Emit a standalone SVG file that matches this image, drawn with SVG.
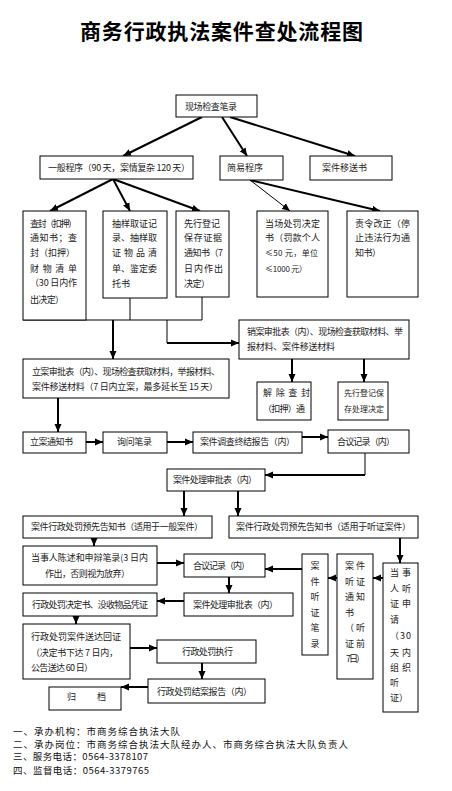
<svg xmlns="http://www.w3.org/2000/svg" width="452" height="791" viewBox="0 0 452 791">
<style>
.b{fill:#fff;stroke:#000;stroke-width:1}
.t{font-family:"Noto Sans CJK SC","Noto Sans",sans-serif;font-size:9px;fill:#222}
.s{font-size:8px}
.c{fill:none;stroke:#000;stroke-width:2}
.n{fill:none;stroke:#000;stroke-width:1}
.f{font-family:"Noto Sans CJK SC","Noto Sans",sans-serif;font-size:9.5px;fill:#111}
</style>
<defs>
<marker id="ah" markerUnits="userSpaceOnUse" markerWidth="8" markerHeight="8" refX="8" refY="4" orient="auto">
<path d="M0,0.5 L8,4 L0,7.5 z" fill="#000"/>
</marker>
</defs>
<rect width="452" height="791" fill="#fff"/>
<text x="80" y="39" textLength="283" style="font-family:'Noto Sans CJK SC',sans-serif;font-size:21px;font-weight:bold;fill:#000">商务行政执法案件查处流程图</text>

<g id="connectors">
<line class="c" x1="202" y1="117" x2="123" y2="156" marker-end="url(#ah)"/>
<line class="c" x1="222" y1="117" x2="247" y2="156" marker-end="url(#ah)"/>
<line class="c" x1="230" y1="117" x2="355" y2="156" marker-end="url(#ah)"/>
<line class="c" x1="113" y1="179" x2="50" y2="211" marker-end="url(#ah)"/>
<line class="c" x1="113" y1="179" x2="130" y2="211" marker-end="url(#ah)"/>
<line class="c" x1="113" y1="179" x2="200" y2="211" marker-end="url(#ah)"/>
<line class="n" x1="250" y1="180" x2="290" y2="211" marker-end="url(#ah)"/>
<line class="c" x1="250" y1="180" x2="380" y2="211" marker-end="url(#ah)"/>
<polyline class="n" points="23,320 202,320"/>
<line class="n" x1="49" y1="310" x2="49" y2="320"/>
<line class="n" x1="130" y1="298" x2="130" y2="320"/>
<line class="n" x1="202" y1="297" x2="202" y2="320"/>
<line class="c" x1="113" y1="320" x2="113" y2="359" marker-end="url(#ah)"/>
<polyline class="n" points="167,320 167,343"/>
<line class="c" x1="167" y1="343" x2="239" y2="343" marker-end="url(#ah)"/>
<line class="c" x1="292" y1="359" x2="292" y2="382" marker-end="url(#ah)"/>
<line class="c" x1="364" y1="359" x2="364" y2="382" marker-end="url(#ah)"/>
<line class="c" x1="58" y1="398" x2="58" y2="432" marker-end="url(#ah)"/>
<line class="c" x1="86" y1="442" x2="103" y2="442" marker-end="url(#ah)"/>
<line class="c" x1="167" y1="442" x2="193" y2="442" marker-end="url(#ah)"/>
<line class="c" x1="302" y1="437" x2="328" y2="437" marker-end="url(#ah)"/>
<polyline class="n" points="365,453 365,475"/>
<line class="c" x1="365" y1="475" x2="265" y2="475" marker-end="url(#ah)"/>
<line class="c" x1="184" y1="491" x2="184" y2="516" marker-end="url(#ah)"/>
<line class="c" x1="238" y1="491" x2="238" y2="516" marker-end="url(#ah)"/>
<line class="c" x1="94" y1="538" x2="94" y2="546" marker-end="url(#ah)"/>
<line class="c" x1="400" y1="538" x2="400" y2="563" marker-end="url(#ah)"/>
<line class="c" x1="157" y1="563" x2="184" y2="563" marker-end="url(#ah)"/>
<line class="c" x1="229" y1="577" x2="229" y2="593" marker-end="url(#ah)"/>
<line class="c" x1="184" y1="601" x2="157" y2="601" marker-end="url(#ah)"/>
<line class="c" x1="76" y1="616" x2="76" y2="624" marker-end="url(#ah)"/>
<line class="c" x1="130" y1="648" x2="157" y2="648" marker-end="url(#ah)"/>
<line class="c" x1="202" y1="663" x2="202" y2="679" marker-end="url(#ah)"/>
<line class="c" x1="148" y1="687" x2="121" y2="687" marker-end="url(#ah)"/>
<line class="c" x1="383" y1="578" x2="373" y2="578" marker-end="url(#ah)"/>
<line class="c" x1="337" y1="578" x2="328" y2="578" marker-end="url(#ah)"/>
<line class="c" x1="302" y1="569" x2="265" y2="569" marker-end="url(#ah)"/>
</g>

<g id="n1"><rect class="b" x="176" y="95" width="81" height="22"/><text class="t" x="185" y="109.5" textLength="52">现场检查笔录</text></g>
<g id="n2"><rect class="b" x="40" y="156" width="153" height="23"/><text class="t" x="48" y="171" textLength="142">一般程序（90 天，案情复杂 120 天）</text></g>
<g id="n3"><rect class="b" x="220" y="156" width="63" height="24"/><text class="t" x="227" y="171" textLength="36">简易程序</text></g>
<g id="n4"><rect class="b" x="310" y="156" width="82" height="24"/><text class="t" x="322" y="171" textLength="45">案件移送书</text></g>

<g id="n5"><rect class="b" x="23" y="211" width="63" height="109"/>
<text class="t" x="30" y="227" textLength="47">查封（扣押）</text>
<text class="t" x="30" y="241" textLength="47">通知书；查</text>
<text class="t" x="30" y="256" textLength="45">封（扣押）</text>
<text class="t" x="30" y="272" textLength="47">财 物 清 单</text>
<text class="t" x="30" y="286" textLength="47">（30 日内作</text>
<text class="t" x="30" y="303" textLength="34">出决定）</text></g>
<g id="n6"><rect class="b" x="103" y="211" width="64" height="87"/>
<text class="t" x="112" y="227" textLength="45">抽样取证记</text>
<text class="t" x="112" y="241" textLength="45">录、抽样取</text>
<text class="t" x="112" y="256" textLength="45">证 物 品 清</text>
<text class="t" x="112" y="272" textLength="45">单、鉴定委</text>
<text class="t" x="112" y="287" textLength="18">托书</text></g>
<g id="n7"><rect class="b" x="176" y="211" width="53" height="86"/>
<text class="t" x="184" y="227" textLength="36">先行登记</text>
<text class="t" x="184" y="241" textLength="38">保存证据</text>
<text class="t" x="184" y="256" textLength="39">通知书（7</text>
<text class="t" x="184" y="272" textLength="39">日内作出</text>
<text class="t" x="184" y="287" textLength="26">决定）</text></g>
<g id="n8"><rect class="b" x="257" y="211" width="71" height="86"/>
<text class="t" x="265" y="227" textLength="55">当场处罚决定</text>
<text class="t" x="265" y="241" textLength="55">书（罚款个人</text>
<text class="t s" x="265" y="256" textLength="53">≤50 元，单位</text>
<text class="t s" x="265" y="272" textLength="42">≤1000 元）</text></g>
<g id="n9"><rect class="b" x="347" y="211" width="71" height="86"/>
<text class="t" x="355" y="227" textLength="55">责令改正（停</text>
<text class="t" x="355" y="241" textLength="55">止违法行为通</text>
<text class="t" x="355" y="256" textLength="26">知书）</text></g>

<g id="n10"><rect class="b" x="239" y="320" width="170" height="39"/>
<text class="t" x="247" y="335" textLength="156">销案审批表（内）、现场检查获取材料、举</text>
<text class="t" x="247" y="350" textLength="88">报材料、案件移送材料</text></g>
<g id="n11"><rect class="b" x="23" y="359" width="206" height="39"/>
<text class="t" x="32" y="375" textLength="188">立案审批表（内）、现场检查获取材料，举报材料、</text>
<text class="t" x="32" y="390" textLength="186">案件移送材料（7 日内立案，最多延长至 15 天）</text></g>
<g id="n12"><rect class="b" x="257" y="382" width="54" height="38"/>
<text class="t" x="263" y="396" textLength="47">解 除 查 封</text>
<text class="t" x="263" y="412" textLength="42">（扣押）通</text></g>
<g id="n13"><rect class="b" x="338" y="382" width="50" height="38"/>
<text class="t s" x="344" y="396" textLength="40">先行登记保</text>
<text class="t s" x="344" y="412" textLength="40">存处理决定</text></g>

<g id="n14"><rect class="b" x="23" y="432" width="63" height="21"/><text class="t" x="30" y="444.5" textLength="43">立案通知书</text></g>
<g id="n15"><rect class="b" x="103" y="432" width="64" height="21"/><text class="t" x="117" y="444.5" textLength="35">询问笔录</text></g>
<g id="n16"><rect class="b" x="193" y="432" width="109" height="21"/><text class="t" x="200" y="444.5" textLength="95">案件调查终结报告（内）</text></g>
<g id="n17"><rect class="b" x="328" y="430" width="81" height="23"/><text class="t" x="337" y="444.5" textLength="58">合议记录（内）</text></g>
<g id="n18"><rect class="b" x="167" y="469" width="98" height="22"/><text class="t" x="173" y="483" textLength="84">案件处理审批表（内）</text></g>
<g id="n19"><rect class="b" x="23" y="516" width="189" height="22"/><text class="t" x="31" y="530" textLength="172">案件行政处罚预先告知书（适用于一般案件）</text></g>
<g id="n20"><rect class="b" x="229" y="516" width="189" height="22"/><text class="t" x="236" y="530" textLength="175">案件行政处罚预先告知书（适用于听证案件）</text></g>
<g id="n21"><rect class="b" x="23" y="546" width="134" height="39"/>
<text class="t" x="31" y="561" textLength="117">当事人陈述和申辩笔录(3 日内</text>
<text class="t" x="45" y="577" textLength="85">作出，否则视为放弃）</text></g>
<g id="n22"><rect class="b" x="184" y="554" width="81" height="23"/><text class="t" x="193" y="569" textLength="57">合议记录（内）</text></g>
<g id="n23"><rect class="b" x="184" y="593" width="109" height="23"/><text class="t" x="193" y="608" textLength="85">案件处理审批表（内）</text></g>
<g id="n24"><rect class="b" x="23" y="593" width="134" height="23"/><text class="t" x="32" y="608" textLength="116">行政处罚决定书、没收物品凭证</text></g>
<g id="n25"><rect class="b" x="23" y="624" width="107" height="55"/>
<text class="t" x="31" y="640" textLength="90">行政处罚案件送达回证</text>
<text class="t" x="31" y="656" textLength="87">（决定书下达 7 日内，</text>
<text class="t" x="31" y="671" textLength="62">公告送达 60 日）</text></g>
<g id="n26"><rect class="b" x="157" y="640" width="99" height="23"/><text class="t" x="182" y="655" textLength="51">行政处罚执行</text></g>
<g id="n27"><rect class="b" x="148" y="679" width="117" height="24"/><text class="t" x="157" y="694.5" textLength="95">行政处罚结案报告（内）</text></g>
<g id="n28"><rect class="b" x="49" y="687" width="72" height="23"/><text class="t" x="67" y="700" textLength="39">归 档</text></g>

<g id="n29"><rect class="b" x="302" y="554" width="26" height="101"/>
<text class="t" x="315" y="569" text-anchor="middle">案</text>
<text class="t" x="315" y="585" text-anchor="middle">件</text>
<text class="t" x="315" y="600" text-anchor="middle">听</text>
<text class="t" x="315" y="616" text-anchor="middle">证</text>
<text class="t" x="315" y="631" text-anchor="middle">笔</text>
<text class="t" x="315" y="647" text-anchor="middle">录</text></g>
<g id="n30"><rect class="b" x="337" y="554" width="36" height="125"/>
<text class="t" x="345" y="569" textLength="20">案件</text>
<text class="t" x="345" y="585" textLength="20">听证</text>
<text class="t" x="345" y="600" textLength="20">通知</text>
<text class="t" x="345" y="616">书</text>
<text class="t" x="345" y="631" textLength="20">（听</text>
<text class="t" x="345" y="647" textLength="20">证前</text>
<text class="t" x="346" y="662" textLength="19">7日）</text></g>
<g id="n31"><rect class="b" x="383" y="563" width="35" height="149"/>
<text class="t" x="390" y="576" textLength="21">当事</text>
<text class="t" x="390" y="592" textLength="21">人听</text>
<text class="t" x="390" y="607" textLength="21">证申</text>
<text class="t" x="390" y="623">请</text>
<text class="t" x="390" y="639" textLength="21">（30</text>
<text class="t" x="390" y="656" textLength="21">天内</text>
<text class="t" x="390" y="671" textLength="21">组织</text>
<text class="t" x="390" y="686">听</text>
<text class="t" x="390" y="701" textLength="18">证）</text></g>

<g id="footer">
<text class="f" x="13" y="735" textLength="167">一、承办机构：市商务综合执法大队</text>
<text class="f" x="13" y="747.5" textLength="335">二、承办岗位：市商务综合执法大队经办人、市商务综合执法大队负责人</text>
<text class="f" x="13" y="760" textLength="135">三、服务电话：0564-3378107</text>
<text class="f" x="13" y="774" textLength="136">四、监督电话：0564-3379765</text>
</g>
</svg>
